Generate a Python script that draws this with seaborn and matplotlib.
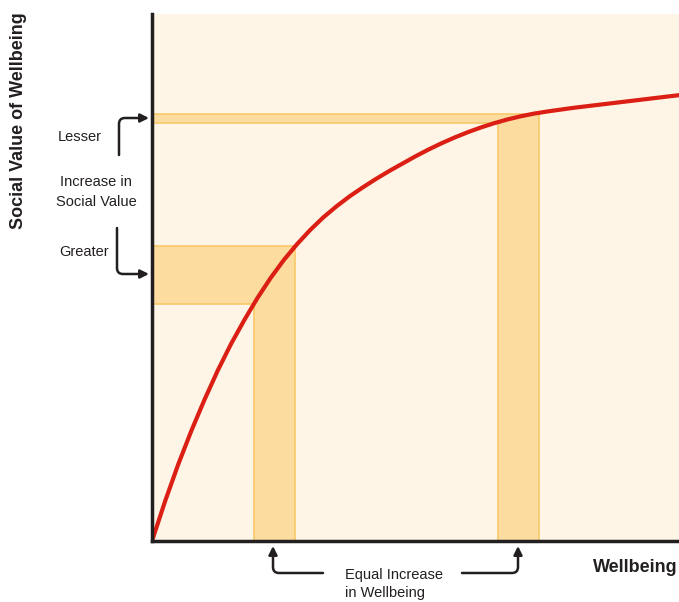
import numpy as np
import pandas as pd
import matplotlib
matplotlib.use("Agg")
import matplotlib.pyplot as plt
import seaborn as sns

# Curve (wellbeing vs social value, 0-100 scale)
curve_x = [0, 2.5, 5, 7.5, 10, 12.5, 15, 17.5, 20, 22.5, 25, 27.5, 30, 32.5, 35, 37.5,
           40, 42.5, 45, 47.5, 50, 52.5, 55, 57.5, 60, 62.5, 65, 67.5, 70, 72.5, 75,
           80, 85, 90, 95, 100]
curve_y = [0, 7.6, 14.6, 21.0, 26.9, 32.4, 37.4, 41.9, 46.1, 49.9, 53.3, 56.3, 59.0, 61.4,
           63.5, 65.4, 67.1, 68.7, 70.2, 71.6, 73.0, 74.3, 75.5, 76.6, 77.6, 78.5, 79.3,
           80.0, 80.6, 81.1, 81.5, 82.2, 82.8, 83.4, 84.0, 84.6]

# Equal wellbeing steps and the resulting social value steps
band1_x = [19.4, 27.2]
band1_y = [45.0, 56.0]
band2_x = [65.7, 73.4]
band2_y = [79.4, 81.1]

W, H = 679, 602
BG = "#fef5e6"
BAND = "#fcdc9f"
BAND_EDGE = "#f9c96a"
RED = "#dc1f14"
INK = "#231f20"

sns.set_style("white")
plt.rcParams['font.family'] = ['Liberation Sans', 'DejaVu Sans']

fig = plt.figure(figsize=(W / 100, H / 100), dpi=100)
ax = fig.add_axes([152 / W, 61 / H, 527 / W, 527 / H])
ax.set_facecolor(BG)


def band(x, y):
    # L-shaped union of the horizontal and vertical strips
    xs = [0, x[0], x[0], x[1], x[1], 0]
    ys = [y[0], y[0], 0, 0, y[1], y[1]]
    ax.fill(xs, ys, facecolor=BAND, edgecolor=BAND_EDGE, lw=1.2, zorder=1)


band(band1_x, band1_y)
band(band2_x, band2_y)

df = pd.DataFrame({'wellbeing': curve_x, 'value': curve_y})
sns.lineplot(data=df, x='wellbeing', y='value', color=RED, lw=3, ax=ax, zorder=3)

ax.set_xlim(0, 100)
ax.set_ylim(0, 100)
ax.set_xticks([])
ax.set_yticks([])
ax.set_xlabel("")
ax.set_ylabel("")
for s in ['top', 'right']:
    ax.spines[s].set_visible(False)
for s in ['left', 'bottom']:
    ax.spines[s].set_color(INK)
    ax.spines[s].set_linewidth(2.5)
    ax.spines[s].set_zorder(5)


def px(x, y):
    return x / W, 1 - y / H


# axis titles
fig.text(*px(19, 121), "Social Value of Wellbeing", rotation=90, ha='center', va='center',
         fontsize=13, fontweight='bold', color=INK)
fig.text(*px(678, 568), "Wellbeing", ha='right', va='center',
         fontsize=13, fontweight='bold', color=INK)

# side labels
fig.text(*px(80, 137), "Lesser", ha='center', va='center', fontsize=10.5, color=INK)
fig.text(*px(96, 192), "Increase in\nSocial Value", ha='center', va='center',
         fontsize=10.5, color=INK, linespacing=1.5)
fig.text(*px(84, 252), "Greater", ha='center', va='center', fontsize=10.5, color=INK)
fig.text(*px(345, 584), "Equal Increase\nin Wellbeing", ha='left', va='center',
         fontsize=10.5, color=INK, linespacing=1.3)

arrow = dict(arrowstyle='-|>,head_length=0.5,head_width=0.25', color=INK, lw=1.8,
             shrinkA=0, shrinkB=0)


def bent_arrow(start, tip, angA, angB):
    ax.annotate('', xy=(tip[0], H - tip[1]), xytext=(start[0], H - start[1]),
                xycoords='figure pixels', textcoords='figure pixels',
                arrowprops=dict(arrow, connectionstyle=f"angle,angleA={angA},angleB={angB},rad=6"),
                annotation_clip=False)


bent_arrow((119, 155), (149, 118), 90, 0)
bent_arrow((117, 228), (149, 274), 90, 0)
bent_arrow((323, 573), (273, 546), 0, 90)
bent_arrow((462, 573), (518, 546), 0, 90)

fig.savefig("out.png", dpi=100, facecolor='white')
